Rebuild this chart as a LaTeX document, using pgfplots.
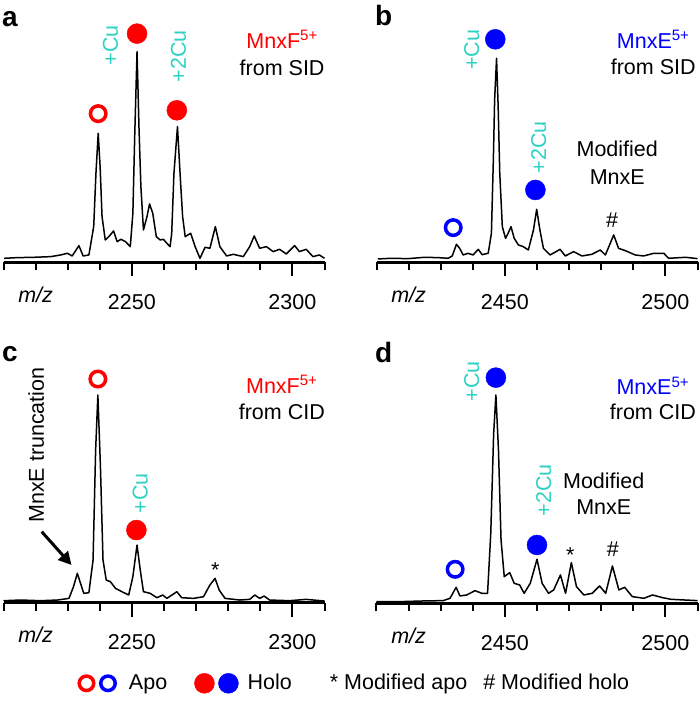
\documentclass[border=0pt]{standalone}
\usepackage{fontspec}
\setmainfont{Liberation Sans}
\usepackage{pgfplots}
\pgfplotsset{compat=1.18}
\usetikzlibrary{arrows.meta}
\definecolor{mred}{RGB}{255,0,0}
\definecolor{mblue}{RGB}{0,0,255}
\definecolor{mteal}{RGB}{45,210,195}
\newcommand\fs{\fontsize{21.5}{25}\selectfont}
\newcommand\fb{\fontsize{28}{32}\selectfont\bfseries}
\tikzset{
  lab/.style={inner sep=0pt, font=\fs},
  rlab/.style={inner sep=0pt, font=\fs, rotate=90, anchor=west, text=mteal},
  plab/.style={inner sep=0pt, font=\fb, anchor=base west},
}
\pgfplotsset{
  spec/.style={
    width=321pt, height=240pt, scale only axis, ymin=0, ymax=720,
    axis y line=none, axis x line*=bottom, clip=false,
    x axis line style={line width=2.5pt, -},
    tick align=outside, major tick length=14pt, minor tick length=8pt,
    every tick/.style={black, line width=2pt},
    xticklabel style={font=\fs, anchor=base, yshift=-33pt, inner sep=0pt},
    anchor=south west,
  },
  spectrum/.style={black, line width=1.5pt, line join=round, no marks, forget plot},
  filled/.style={only marks, mark=*, mark size=10pt, forget plot},
  hollow/.style={only marks, mark=o, mark size=7.75pt, line width=3.5pt, forget plot},
}
\begin{document}
\fs
\begin{tikzpicture}
\path[use as bounding box] (0pt,0pt) rectangle (700pt,705pt);

% ---------- panel a ----------
\begin{axis}[spec, at={(3.5pt,442.7pt)}, xmin=2210, xmax=2310,
  xtick={2250,2300}, xticklabels={2250,2300},
  minor xtick={2210,2220,2230,2240,2260,2270,2280,2290,2310}]
\addplot[spectrum] coordinates {(2210.2,12)(2214.3,14)(2219.5,15)(2224.7,17)(2227.8,22)(2229.9,27)(2231.4,19)(2233.5,50)(2234.8,19)(2236.6,22)(2238.1,107)(2238.8,267)(2239.5,387)(2240.1,287)(2240.7,137)(2241.7,67)(2242.8,77)(2244.3,94)(2245.4,62)(2246.6,69)(2248.0,62)(2249.5,47)(2250.3,147)(2250.9,387)(2251.6,632)(2252.2,407)(2252.8,227)(2253.6,97)(2254.7,137)(2255.5,175)(2256.5,147)(2257.6,77)(2258.8,67)(2259.8,69)(2260.9,57)(2261.9,47)(2262.4,87)(2263.1,267)(2264.2,407)(2265.0,267)(2265.8,137)(2266.6,77)(2268.3,87)(2269.7,47)(2271.2,12)(2272.8,45)(2274.3,42)(2276.0,107)(2277.4,47)(2279.5,19)(2281.6,24)(2284.7,17)(2286.7,47)(2288.1,79)(2289.8,42)(2291.9,47)(2294.0,32)(2296.0,39)(2298.1,25)(2300.7,50)(2302.2,32)(2304.3,39)(2306.4,17)(2308.4,22)(2310.0,12)};
\addplot[hollow, mred] coordinates {(2239.5,446)};
\addplot[filled, mred] coordinates {(2251.6,686)(2264.0,456)};
\node[plab] at (axis cs:2209.5,706) {a};
\node[lab, anchor=base] at (axis cs:2220,-120) {\textit{m/z}};
\node[rlab] at (axis cs:2243.3,591) {+Cu};
\node[rlab] at (axis cs:2264.5,540) {+2Cu};
\node[lab, anchor=base, text=mred] at (axis cs:2296.8,642) {MnxF\textsuperscript{5+}};
\node[lab, anchor=base] at (axis cs:2296.8,561) {from SID};
\end{axis}

% ---------- panel b ----------
\begin{axis}[spec, at={(376.5pt,442.7pt)}, xmin=2410, xmax=2510,
  xtick={2450,2500}, xticklabels={2450,2500},
  minor xtick={2410,2420,2430,2440,2460,2470,2480,2490,2510}]
\addplot[spectrum] coordinates {(2410.4,10)(2414.6,12)(2419.8,11)(2425.0,15)(2429.2,14)(2432.3,12)(2433.6,19)(2434.9,54)(2435.9,42)(2437.0,22)(2438.5,27)(2440.1,22)(2441.7,39)(2442.9,23)(2444.8,27)(2445.8,87)(2446.4,307)(2446.8,487)(2447.4,612)(2447.9,467)(2448.4,267)(2449.2,107)(2450.2,72)(2451.0,87)(2451.9,107)(2452.9,72)(2454.2,52)(2455.7,47)(2457.3,37)(2458.9,97)(2459.9,159)(2460.9,97)(2462.0,42)(2464.1,22)(2467.2,39)(2468.8,19)(2471.4,32)(2474.0,19)(2477.1,24)(2479.7,37)(2481.3,22)(2483.9,82)(2485.4,42)(2487.5,35)(2490.6,22)(2493.2,19)(2496.4,27)(2499.5,27)(2501.0,12)(2506.3,15)(2510.0,11)};
\addplot[hollow, mblue] coordinates {(2433.9,104)};
\addplot[filled, mblue] coordinates {(2447.0,669)(2459.5,217)};
\node[plab] at (axis cs:2409.5,709) {b};
\node[lab, anchor=base] at (axis cs:2420,-120) {\textit{m/z}};
\node[rlab] at (axis cs:2439.7,577) {+Cu};
\node[rlab] at (axis cs:2460.5,267) {+2Cu};
\node[lab, anchor=base] at (axis cs:2483.4,103) {\#};
\node[lab, anchor=base] at (axis cs:2485.0,317) {Modified};
\node[lab, anchor=base] at (axis cs:2485.0,232) {MnxE};
\node[lab, anchor=base, text=mblue] at (axis cs:2496.2,642) {MnxE\textsuperscript{5+}};
\node[lab, anchor=base] at (axis cs:2496.2,562) {from SID};
\end{axis}

% ---------- panel c ----------
\begin{axis}[spec, at={(3.5pt,102.3pt)}, xmin=2210, xmax=2310,
  xtick={2250,2300}, xticklabels={2250,2300},
  minor xtick={2210,2220,2230,2240,2260,2270,2280,2290,2310}]
\addplot[spectrum] coordinates {(2210,6)(2215.4,8)(2221.6,6)(2226.8,8)(2230.4,13)(2231.8,48)(2233.0,88)(2234.0,58)(2235.0,28)(2236.6,30)(2237.9,128)(2238.7,458)(2239.4,623)(2240.2,408)(2241.0,128)(2242.0,68)(2243.3,63)(2244.9,43)(2246.9,33)(2249.0,23)(2250.3,78)(2251.6,173)(2252.6,98)(2253.6,33)(2255.7,28)(2257.8,15)(2259.6,23)(2260.9,13)(2264.0,33)(2265.5,15)(2269.2,13)(2272.3,18)(2274.3,53)(2275.9,73)(2277.2,38)(2279.0,13)(2283.6,8)(2286.7,10)(2288.3,23)(2289.8,13)(2291.2,20)(2292.9,8)(2299.1,6)(2304.3,10)(2310,5)};
\addplot[hollow, mred] coordinates {(2239.4,671)};
\addplot[filled, mred] coordinates {(2251.4,218)};
\node[plab] at (axis cs:2209.5,723) {c};
\node[lab, anchor=base] at (axis cs:2220,-120) {\textit{m/z}};
\node[rlab] at (axis cs:2252.6,268) {+Cu};
\node[lab, anchor=base] at (axis cs:2276,75) {*};
\node[lab, anchor=base, text=mred] at (axis cs:2296.7,628) {MnxF\textsuperscript{5+}};
\node[lab, anchor=base] at (axis cs:2296.7,550) {from CID};
\node[lab, rotate=90, anchor=west] at (axis cs:2220.2,239) {MnxE truncation};
\draw[line width=3pt, -{Triangle[length=13pt,width=13pt]}] (axis cs:2221.9,213) -- (axis cs:2231.2,113);
\end{axis}

% ---------- panel d ----------
\begin{axis}[spec, at={(376.5pt,101.7pt)}, xmin=2410, xmax=2510,
  xtick={2450,2500}, xticklabels={2450,2500},
  minor xtick={2410,2420,2430,2440,2460,2470,2480,2490,2510},
  legend columns=-1,
  legend style={draw=none, fill=none, inner sep=0pt, outer sep=0pt,
    font=\fs, nodes={inner sep=0pt},
    at={(-0.9315,-0.3333)}, anchor=west,
    /tikz/column 1/.style={column sep=12pt},
    /tikz/column 2/.style={column sep=27pt},
    /tikz/column 3/.style={column sep=9pt},
    /tikz/column 4/.style={column sep=38pt},
    /tikz/column 5/.style={column sep=0pt},
    /tikz/column 6/.style={column sep=16pt},
    /tikz/column 7/.style={column sep=0pt}}]
\addplot[spectrum] coordinates {(2410,5)(2417.3,5)(2424.6,7)(2430.8,8)(2432.9,15)(2434.8,48)(2436.0,22)(2438.1,25)(2440.7,38)(2442.8,30)(2444.6,30)(2445.6,210)(2446.5,510)(2447.2,625)(2448.0,460)(2448.8,190)(2449.8,80)(2451.5,92)(2452.9,60)(2454.6,55)(2456.0,30)(2457.9,60)(2460.0,132)(2461.6,60)(2463.6,30)(2465.2,40)(2467.3,85)(2468.9,30)(2470.7,122)(2472.3,50)(2474.6,25)(2477.2,30)(2479.5,52)(2481.4,30)(2483.5,112)(2485.5,40)(2487.3,48)(2489.7,20)(2493.3,15)(2496.0,25)(2499.1,17)(2501.7,12)(2505.8,10)(2510,8)};
\addplot[hollow, mblue] coordinates {(2434.5,102)};
\addplot[filled, mblue] coordinates {(2447.2,677)(2460.0,175)};
\node[plab] at (axis cs:2409.5,722) {d};
\node[lab, anchor=base] at (axis cs:2420,-120) {\textit{m/z}};
\node[rlab] at (axis cs:2439.7,605) {+Cu};
\node[rlab] at (axis cs:2462.1,260) {+2Cu};
\node[lab, anchor=base] at (axis cs:2470.4,122) {*};
\node[lab, anchor=base] at (axis cs:2483.6,139) {\#};
\node[lab, anchor=base] at (axis cs:2480.8,345) {Modified};
\node[lab, anchor=base] at (axis cs:2480.8,265) {MnxE};
\node[lab, anchor=base, text=mblue] at (axis cs:2496.1,625) {MnxE\textsuperscript{5+}};
\node[lab, anchor=base] at (axis cs:2496.1,550) {from CID};
\addlegendimage{legend image code/.code={
  \draw[mred, line width=3.5pt] (9pt,0pt) circle (7.25pt);
  \draw[mblue, line width=3.5pt] (30.5pt,0pt) circle (7.25pt);}}
\addlegendentry{Apo}
\addlegendimage{legend image code/.code={
  \fill[mred] (10pt,0pt) circle (10pt);
  \fill[mblue] (34pt,0pt) circle (10pt);}}
\addlegendentry{Holo}
\addlegendimage{empty legend}
\addlegendentry{* Modified apo}
\addlegendimage{empty legend}
\addlegendentry{\# Modified holo}
\end{axis}
\end{tikzpicture}
\end{document}
